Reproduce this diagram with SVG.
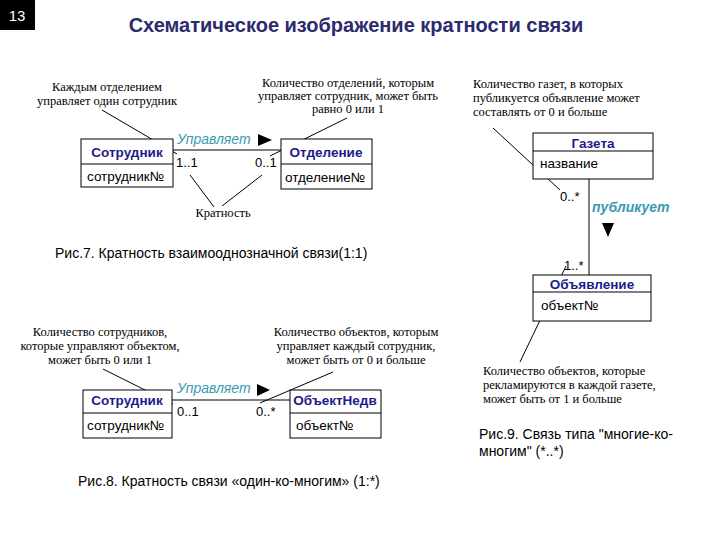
<svg xmlns="http://www.w3.org/2000/svg" width="720" height="540" viewBox="0 0 720 540">
<style>
.box{fill:#fff;stroke:#000;stroke-width:1}
.ln{stroke:#000;stroke-width:1;fill:none}
.name{font-family:"Liberation Sans",Arial,sans-serif;font-weight:bold;font-size:13.5px;fill:#1c1c8c;text-anchor:middle}
.attr{font-family:"Liberation Sans",Arial,sans-serif;font-size:13.5px;fill:#000}
.note{font-family:"Liberation Serif","Times New Roman",serif;font-size:12.5px;fill:#000}
.rel{font-family:"Liberation Sans",Arial,sans-serif;font-style:italic;font-size:14px;fill:#3a9bb0}
.mul{font-family:"Liberation Sans",Arial,sans-serif;font-size:13px;fill:#000}
.cap{font-family:"Liberation Sans",Arial,sans-serif;font-size:14px;fill:#000}
</style>
<rect width="720" height="540" fill="#fff"/>
<rect x="0" y="0" width="35" height="30" fill="#000"/>
<text x="17" y="21" font-family="Liberation Sans,Arial,sans-serif" font-size="15" fill="#fff" text-anchor="middle">13</text>
<text x="356" y="32" font-family="Liberation Sans,Arial,sans-serif" font-size="20" font-weight="bold" fill="#2b2b6e" text-anchor="middle">Схематическое изображение кратности связи</text>

<g id="connectors">
<line class="ln" x1="173" y1="150" x2="281" y2="150"/>
<line class="ln" x1="172" y1="400" x2="290" y2="400"/>
<line class="ln" x1="589" y1="179" x2="589" y2="275"/>
<polygon points="258,134 272,140 258,146" fill="#000"/>
<polygon points="257,384 270,390 257,396" fill="#000"/>
<polygon points="602,223 614,223 608,237" fill="#000"/>
<line class="ln" x1="102" y1="110" x2="177" y2="154"/>
<line class="ln" x1="347" y1="118" x2="270" y2="156"/>
<line class="ln" x1="190" y1="175" x2="214" y2="207"/>
<line class="ln" x1="262" y1="175" x2="222" y2="206"/>
<line class="ln" x1="493" y1="128" x2="560" y2="190"/>
<line class="ln" x1="566" y1="266" x2="520" y2="362"/>
<line class="ln" x1="103" y1="369" x2="173" y2="404"/>
<line class="ln" x1="333" y1="372" x2="260" y2="403"/>
</g>

<g id="sotr1">
<rect class="box" x="81" y="139" width="92" height="48"/>
<line class="ln" x1="81" y1="164" x2="173" y2="164"/>
<text class="name" x="127" y="157">Сотрудник</text>
<text class="attr" x="87" y="181">сотрудник№</text>
</g>
<g id="otdel">
<rect class="box" x="281" y="139" width="91" height="50"/>
<line class="ln" x1="281" y1="164" x2="372" y2="164"/>
<text class="name" x="326" y="157">Отделение</text>
<text class="attr" x="285" y="182">отделение№</text>
</g>
<g id="rel1">
<text class="rel" x="177" y="144">Управляет</text>
<text class="mul" x="176" y="167">1..1</text>
<text class="mul" x="255" y="167">0..1</text>
</g>
<g id="notes1">
<text class="note" text-anchor="middle"><tspan x="107" y="91">Каждым отделением</tspan><tspan x="107" y="105">управляет один сотрудник</tspan></text>
<text class="note" text-anchor="middle" font-size="13"><tspan x="348" y="87">Количество отделений, которым</tspan><tspan x="348" y="100">управляет сотрудник, может быть</tspan><tspan x="348" y="113">равно 0 или 1</tspan></text>
<text class="note" x="223" y="217" text-anchor="middle" font-size="11.5">Кратность</text>
</g>
<text class="cap" x="55" y="258">Рис.7. Кратность взаимооднозначной связи(1:1)</text>

<g id="gazeta">
<rect class="box" x="533" y="133" width="120" height="46"/>
<line class="ln" x1="533" y1="151" x2="653" y2="151"/>
<text class="name" x="593" y="148">Газета</text>
<text class="attr" x="540" y="168">название</text>
</g>
<g id="obyav">
<rect class="box" x="533" y="275" width="118" height="46"/>
<line class="ln" x1="533" y1="292" x2="651" y2="292"/>
<text class="name" x="592" y="289">Объявление</text>
<text class="attr" x="541" y="310">объект№</text>
</g>
<g id="rel3">
<text class="mul" x="560" y="201">0..*</text>
<text class="rel" x="592" y="212" font-weight="bold" font-size="13.5">публикует</text>
<text class="mul" x="564" y="270">1..*</text>
</g>
<g id="notes3">
<text class="note"><tspan x="473" y="88">Количество газет, в которых</tspan><tspan x="473" y="102">публикуется объявление может</tspan><tspan x="473" y="116">составлять от 0 и больше</tspan></text>
<text class="note"><tspan x="483" y="375">Количество объектов, которые</tspan><tspan x="483" y="389">рекламируются в каждой газете,</tspan><tspan x="483" y="403">может быть от 1 и больше</tspan></text>
</g>
<text class="cap"><tspan x="479" y="439">Рис.9.  Связь типа "многие-ко-</tspan><tspan x="479" y="456">многим" (*..*)</tspan></text>

<g id="sotr2">
<rect class="box" x="83" y="390" width="89" height="48"/>
<line class="ln" x1="83" y1="413" x2="172" y2="413"/>
<text class="name" x="127" y="405">Сотрудник</text>
<text class="attr" x="87" y="430">сотрудник№</text>
</g>
<g id="obnedv">
<rect class="box" x="290" y="390" width="91" height="48"/>
<line class="ln" x1="290" y1="413" x2="381" y2="413"/>
<text class="name" x="335" y="405">ОбъектНедв</text>
<text class="attr" x="296" y="430">объект№</text>
</g>
<g id="rel2">
<text class="rel" x="177" y="393">Управляет</text>
<text class="mul" x="177" y="416">0..1</text>
<text class="mul" x="256" y="416">0..*</text>
</g>
<g id="notes2">
<text class="note" text-anchor="middle"><tspan x="100" y="336">Количество сотрудников,</tspan><tspan x="100" y="350">которые управляют объектом,</tspan><tspan x="100" y="364">может быть 0 или 1</tspan></text>
<text class="note" text-anchor="middle"><tspan x="356" y="336">Количество объектов, которым</tspan><tspan x="356" y="350">управляет каждый сотрудник,</tspan><tspan x="356" y="364">может быть от 0 и больше</tspan></text>
</g>
<text class="cap" x="78" y="486">Рис.8. Кратность связи «один-ко-многим» (1:*)</text>
</svg>
